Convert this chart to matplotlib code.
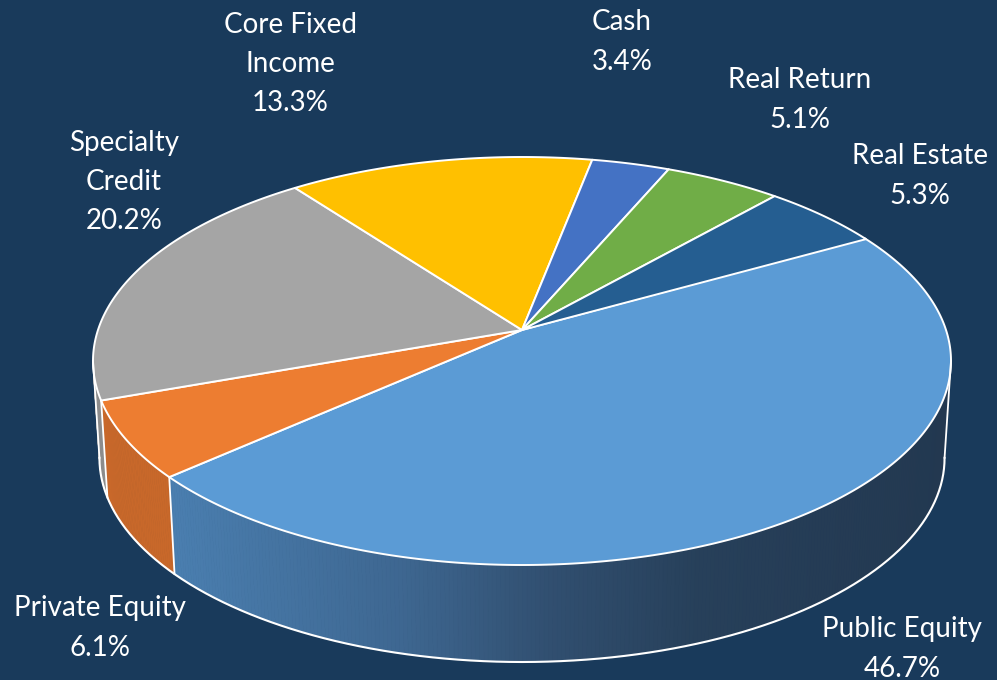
import numpy as np
import matplotlib.pyplot as plt
from matplotlib.patches import Polygon
from matplotlib.colors import to_rgb

# asset allocation, clockwise from the upper right
labels = ["Public Equity", "Private Equity", "Specialty\nCredit", "Core Fixed\nIncome",
          "Cash", "Real Return", "Real Estate"]
shares = [46.7, 6.1, 20.2, 13.3, 3.4, 5.1, 5.3]
colors = ["#5B9BD5", "#ED7D31", "#A5A5A5", "#FFC000", "#4472C4", "#70AD47", "#255E91"]
side_colors = [None, "#C8682A", "#8C8C8C", "#CC9A00", "#36599C", "#5A8A39", "#1D4B74"]

# label centres in pixel coords (layout only)
label_xy = [(902, 649), (100, 628), (124, 182), (290, 64), (622, 42), (800, 100), (920, 176)]

BG = "#193A5B"
CX, CY, RX, RY = 522, 361, 429, 204
A = 0.152          # perspective tilt, moves pie centre up
DEPTH = 97
START = 29.7


def project(theta, drop=0.0, shrink=1.0):
    t = np.radians(theta)
    u, v = np.cos(t), np.sin(t)
    X = u * np.sqrt(1 - A * A) / (1 + A * v)
    Y = (v + A) / (1 + A * v)
    return CX + RX * shrink * X, CY - RY * Y + drop


def arc(t1, t2, drop=0.0, shrink=1.0, n=None):
    n = n or max(4, int(abs(t2 - t1) * 2))
    th = np.linspace(t1, t2, n)
    x, y = project(th, drop, shrink)
    return np.column_stack([x, y])


def pe_side_color(x):
    stops_x = [175, 400, 550, 700, 950]
    stops_c = [to_rgb(c) for c in ["#4A7EAF", "#3E6791", "#314F70", "#27405A", "#233850"]]
    return tuple(np.interp(x, stops_x, [c[i] for c in stops_c]) for i in range(3))


fig = plt.figure(figsize=(9.97, 6.80), dpi=100)
fig.patch.set_facecolor(BG)
ax = fig.add_axes([0, 0, 1, 1])
ax.set_facecolor(BG)
ax.set_xlim(0, 997)
ax.set_ylim(680, 0)
ax.axis('off')

SHRINK = 0.985
vis_lo, vis_hi = -171.3, -8.7   # visible part of the side wall

# slice angle ranges (clockwise)
bounds = []
a = START
for s in shares:
    b = a - s / 100 * 360
    bounds.append((b, a))
    a = b

# side walls
for i, (lo, hi) in enumerate(bounds):
    for off in (0, 360, -360):
        l, h = max(lo + off, vis_lo), min(hi + off, vis_hi)
        if l < h:
            break
    else:
        continue
    step = 0.5
    th = np.arange(l, h + step, step)
    th[-1] = h
    for t1, t2 in zip(th[:-1], th[1:]):
        top = arc(t1, t2, n=2)
        bot = arc(t2, t1, DEPTH, SHRINK, n=2)
        c = pe_side_color(top[:, 0].mean()) if i == 0 else side_colors[i]
        ax.add_patch(Polygon(np.vstack([top, bot]), closed=True, fc=c, ec=c, lw=0.6))

# side outlines
ax.plot(*arc(vis_lo, vis_hi, DEPTH, SHRINK).T, color="white", lw=1.5)
for t in (vis_lo, vis_hi, bounds[0][0], bounds[1][0]):
    x0, y0 = project(t)
    x1, y1 = project(t, DEPTH, SHRINK)
    ax.plot([x0, x1], [y0, y1], color="white", lw=1.3)

# top faces
vx, vy = CX, CY - RY * A
for i, (lo, hi) in enumerate(bounds):
    pts = np.vstack([[vx, vy], arc(hi, lo)])
    ax.add_patch(Polygon(pts, closed=True, fc=colors[i], ec="white", lw=1.4,
                         joinstyle="round"))

# labels
for name, s, (x, y) in zip(labels, shares, label_xy):
    ax.text(x, y, f"{name}\n{s:.1f}%", ha="center", va="center", color="white",
            fontsize=20, family="Lato", linespacing=1.62)

plt.savefig("out.png", dpi=100, facecolor=BG)
